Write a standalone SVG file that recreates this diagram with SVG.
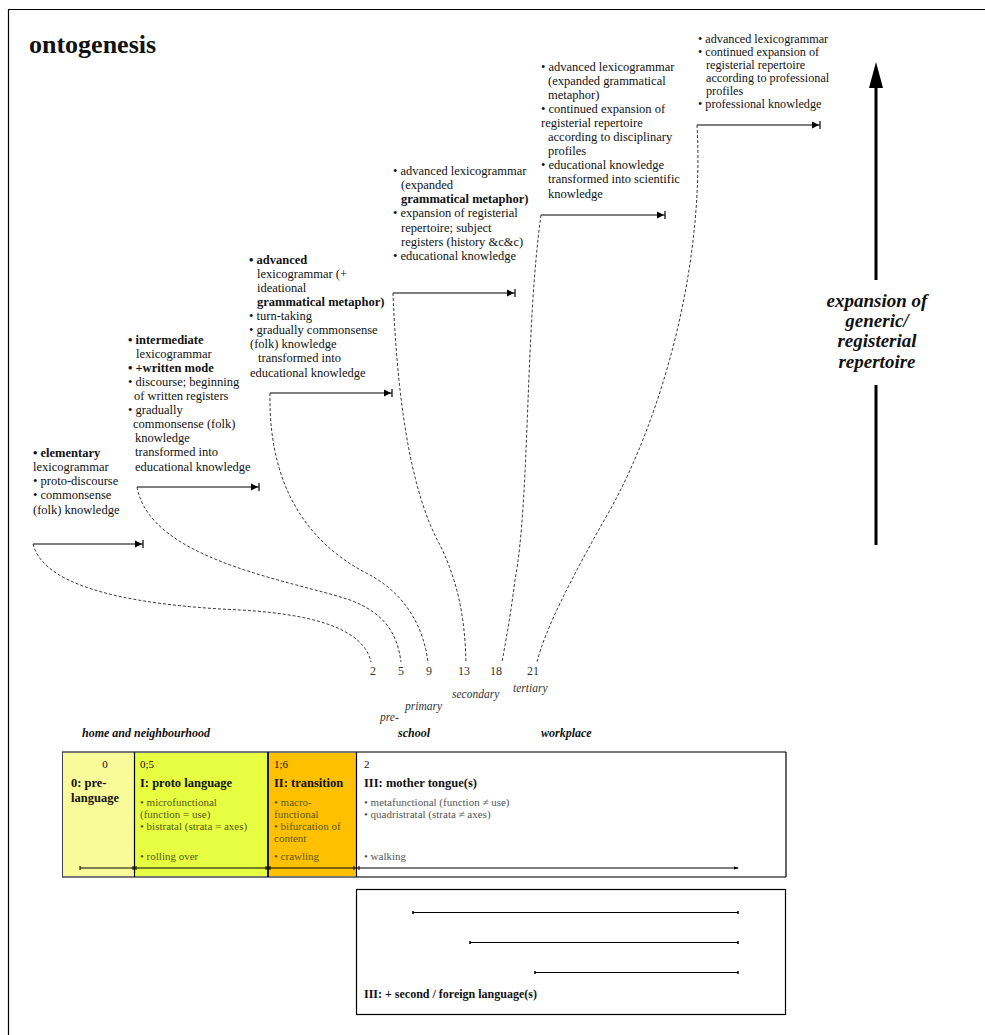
<svg xmlns="http://www.w3.org/2000/svg" width="985" height="1035" viewBox="0 0 985 1035">
  <style>
    text { font-family: "Liberation Serif", "DejaVu Serif", serif; fill: #111; }
    .t { font-size: 12.5px; }
    .s { font-size: 12.2px; }
    .b { font-weight: bold; }
    .age { font-size: 12px; fill: #333; }
    .it { font-style: italic; font-size: 11.5px; fill: #333; }
    .place { font-style: italic; font-weight: bold; font-size: 12px; }
    .stage { font-size: 12.5px; font-weight: bold; }
    .small { font-size: 11px; }
    .olive { fill: #5b5b14; }
    .grey { fill: #555; }
    .step { fill: none; stroke: #000; stroke-width: 1.2; }
    .dash { fill: none; stroke: #222; stroke-width: 0.9; stroke-dasharray: 3 2; }
    .tl { stroke: #000; stroke-width: 1; fill: none; }
  </style>
  <defs>
    <marker id="stop" markerUnits="userSpaceOnUse" markerWidth="12" markerHeight="12" refX="9" refY="6" orient="auto" viewBox="0 0 12 12">
      <path d="M1,2.5 L8,6 L1,9.5 Z" fill="#000"/>
      <path d="M9,2 V10" stroke="#000" stroke-width="1.2"/>
    </marker>
  </defs>

  <rect width="985" height="1035" fill="#fff"/>
  <!-- page frame -->
  <path d="M8.5,1035 V9.5 H985" fill="none" stroke="#000" stroke-width="1.2"/>

  <text x="29" y="53" style="font-size:26px;font-weight:bold">ontogenesis</text>

  <!-- step 1 -->
  <g id="step-elementary">
    <text class="t" x="33" y="457"><tspan class="b">• elementary</tspan></text>
    <text class="t" x="33" y="471">lexicogrammar</text>
    <text class="t" x="33" y="485">• proto-discourse</text>
    <text class="t" x="33" y="499">• commonsense</text>
    <text class="t" x="33" y="514">(folk) knowledge</text>
  </g>

  <!-- step 2 -->
  <g id="step-intermediate">
    <text class="t" x="128" y="344"><tspan class="b">• intermediate</tspan></text>
    <text class="t" x="136" y="358">lexicogrammar</text>
    <text class="t b" x="128" y="372">• +written mode</text>
    <text class="t" x="128" y="386">• discourse; beginning</text>
    <text class="t" x="134" y="400">of written registers</text>
    <text class="t" x="128" y="414">• gradually</text>
    <text class="t" x="133" y="428">commonsense (folk)</text>
    <text class="t" x="135" y="442">knowledge</text>
    <text class="t" x="135" y="456">transformed into</text>
    <text class="t" x="135" y="471">educational knowledge</text>
  </g>

  <!-- step 3 -->
  <g id="step-advanced">
    <text class="t b" x="249" y="264">• advanced</text>
    <text class="t" x="257" y="278">lexicogrammar (+</text>
    <text class="t" x="257" y="292">ideational</text>
    <text class="t b" x="257" y="306">grammatical metaphor)</text>
    <text class="t" x="249" y="320">• turn-taking</text>
    <text class="t" x="249" y="334">• gradually commonsense</text>
    <text class="t" x="250" y="348">(folk) knowledge</text>
    <text class="t" x="258" y="362">transformed into</text>
    <text class="t" x="250" y="377">educational knowledge</text>
  </g>

  <!-- step 4 -->
  <g id="step-secondary">
    <text class="t" x="393" y="175">• advanced lexicogrammar</text>
    <text class="t" x="401" y="189">(expanded</text>
    <text class="t b" x="401" y="203">grammatical metaphor)</text>
    <text class="t" x="393" y="217">• expansion of registerial</text>
    <text class="t" x="401" y="232">repertoire; subject</text>
    <text class="t" x="401" y="246">registers (history &amp;c&amp;c)</text>
    <text class="t" x="393" y="260">• educational knowledge</text>
  </g>

  <!-- step 5 -->
  <g id="step-tertiary">
    <text class="t" x="541" y="71">• advanced lexicogrammar</text>
    <text class="t" x="548" y="85">(expanded grammatical</text>
    <text class="t" x="548" y="99">metaphor)</text>
    <text class="t" x="541" y="113">• continued expansion of</text>
    <text class="t" x="541" y="127">registerial repertoire</text>
    <text class="t" x="548" y="141">according to disciplinary</text>
    <text class="t" x="548" y="155">profiles</text>
    <text class="t" x="541" y="169">• educational knowledge</text>
    <text class="t" x="548" y="183">transformed into scientific</text>
    <text class="t" x="548" y="198">knowledge</text>
  </g>

  <!-- step 6 -->
  <g id="step-workplace">
    <text class="s" x="698" y="43">• advanced lexicogrammar</text>
    <text class="s" x="698" y="56">• continued expansion of</text>
    <text class="s" x="706" y="69">registerial repertoire</text>
    <text class="s" x="706" y="82">according to professional</text>
    <text class="s" x="706" y="95">profiles</text>
    <text class="s" x="698" y="108">• professional knowledge</text>
  </g>

  <!-- expansion axis -->
  <g id="expansion-axis">
    <line x1="876" y1="280" x2="876" y2="84" stroke="#000" stroke-width="3"/>
    <path d="M876,62 L883,88 L869,88 Z" fill="#000"/>
    <line x1="876" y1="385" x2="876" y2="545" stroke="#000" stroke-width="3"/>
    <g style="font-size:19px;font-weight:bold;font-style:italic" text-anchor="middle">
      <text x="877" y="307">expansion of</text>
      <text x="877" y="327">generic/</text>
      <text x="877" y="347">registerial</text>
      <text x="877" y="368">repertoire</text>
    </g>
  </g>

  <!-- connectors: step lines and age links -->
  <g id="connectors">
    <line class="step" x1="33" y1="544" x2="143" y2="544" marker-end="url(#stop)"/>
    <line class="step" x1="137" y1="487" x2="259" y2="487" marker-end="url(#stop)"/>
    <line class="step" x1="270" y1="393" x2="392" y2="393" marker-end="url(#stop)"/>
    <line class="step" x1="393" y1="293" x2="515" y2="293" marker-end="url(#stop)"/>
    <line class="step" x1="541" y1="215" x2="665" y2="215" marker-end="url(#stop)"/>
    <line class="step" x1="697" y1="125" x2="820" y2="125" marker-end="url(#stop)"/>

    <path class="dash" d="M33,544 C45,592 150,606 240,610 C330,615 365,635 371,662"/>
    <path class="dash" d="M137,487 C150,560 290,580 350,600 C390,615 398,640 401,662"/>
    <path class="dash" d="M270,393 C268,500 320,550 370,575 C415,600 425,640 428,662"/>
    <path class="dash" d="M393,293 C398,420 415,500 440,545 C462,590 465,630 466,662"/>
    <path class="dash" d="M541,215 C525,330 530,500 515,580 C510,620 505,645 502,662"/>
    <path class="dash" d="M697,125 C705,270 660,420 610,510 C570,580 545,630 537,662"/>
  </g>

  <!-- ages and settings -->
  <g id="ages">
    <text class="age" x="373" y="675" text-anchor="middle">2</text>
    <text class="age" x="401" y="675" text-anchor="middle">5</text>
    <text class="age" x="429" y="675" text-anchor="middle">9</text>
    <text class="age" x="464" y="675" text-anchor="middle">13</text>
    <text class="age" x="496" y="675" text-anchor="middle">18</text>
    <text class="age" x="533" y="675" text-anchor="middle">21</text>
    <text class="it" x="513" y="692">tertiary</text>
    <text class="it" x="452" y="698">secondary</text>
    <text class="it" x="405" y="710">primary</text>
    <text class="it" x="380" y="721">pre-</text>
    <text class="place" x="82" y="737">home and neighbourhood</text>
    <text class="place" x="398" y="737">school</text>
    <text class="place" x="541" y="737">workplace</text>
  </g>

  <!-- phases of mother tongue -->
  <g id="phase-0">
    <rect x="62" y="752" width="72" height="125" fill="#f9fb9a"/>
    <text class="small" x="105" y="768" text-anchor="middle">0</text>
    <text class="stage" x="71" y="787">0: pre-</text>
    <text class="stage" x="71" y="802">language</text>
  </g>
  <g id="phase-1">
    <rect x="134" y="752" width="134" height="125" fill="#e6fd42"/>
    <text class="small" x="140" y="768">0;5</text>
    <text class="stage" x="140" y="787">I: proto language</text>
    <text class="small olive" x="140" y="806">• microfunctional</text>
    <text class="small olive" x="140" y="818">(function = use)</text>
    <text class="small olive" x="140" y="830">• bistratal (strata = axes)</text>
    <text class="small olive" x="140" y="860">• rolling over</text>
  </g>
  <g id="phase-2">
    <rect x="268" y="752" width="88" height="125" fill="#ffc000"/>
    <text class="small" x="274" y="768">1;6</text>
    <text class="stage" x="274" y="787">II: transition</text>
    <text class="small olive" x="274" y="806">• macro-</text>
    <text class="small olive" x="274" y="818">functional</text>
    <text class="small olive" x="274" y="830">• bifurcation of</text>
    <text class="small olive" x="274" y="842">content</text>
    <text class="small olive" x="274" y="860">• crawling</text>
  </g>
  <g id="phase-3">
    <rect x="356" y="752" width="430" height="125" fill="#fff"/>
    <text class="small" x="364" y="768">2</text>
    <text class="stage" x="364" y="787">III: mother tongue(s)</text>
    <text class="small grey" x="364" y="806">• metafunctional (function ≠ use)</text>
    <text class="small grey" x="364" y="818">• quadristratal (strata ≠ axes)</text>
    <text class="small grey" x="364" y="860">• walking</text>
  </g>
  <g id="phase-frame">
    <line x1="62" y1="752" x2="786" y2="752" stroke="#777" stroke-width="2"/>
    <line x1="62" y1="877" x2="786" y2="877" stroke="#777" stroke-width="2"/>
    <line x1="62.5" y1="752" x2="62.5" y2="877" stroke="#444" stroke-width="1"/>
    <line x1="134.5" y1="752" x2="134.5" y2="877" stroke="#000" stroke-width="1.2"/>
    <line x1="268" y1="752" x2="268" y2="877" stroke="#000" stroke-width="1.8"/>
    <line x1="356.5" y1="752" x2="356.5" y2="877" stroke="#000" stroke-width="1.2"/>
    <line x1="786" y1="752" x2="786" y2="877" stroke="#000" stroke-width="1.2"/>
    <line class="tl" x1="80" y1="868" x2="738" y2="868"/>
    <path d="M80,866 V870 M133,866 V870 M136,866 V870 M266,866 V870 M270,866 V870 M354,866 V870 M359,866 V870" stroke="#000" stroke-width="1"/>
    <path d="M734,866.5 L739,868 L734,869.5 Z" fill="#000"/>
  </g>

  <!-- second / foreign languages -->
  <g id="second-language">
    <rect x="356.5" y="889.5" width="429" height="125" fill="#fff" stroke="#000" stroke-width="1.2"/>
    <line class="tl" x1="413" y1="912.5" x2="738" y2="912.5"/>
    <line class="tl" x1="470" y1="942.5" x2="738" y2="942.5"/>
    <line class="tl" x1="535" y1="972.5" x2="738" y2="972.5"/>
    <path d="M413,911 V914 M738,911 V914 M470,941 V944 M738,941 V944 M535,971 V974 M738,971 V974" stroke="#000" stroke-width="1.5"/>
    <text class="stage" x="364" y="998" style="font-size:12px">III: + second / foreign language(s)</text>
  </g>
</svg>
